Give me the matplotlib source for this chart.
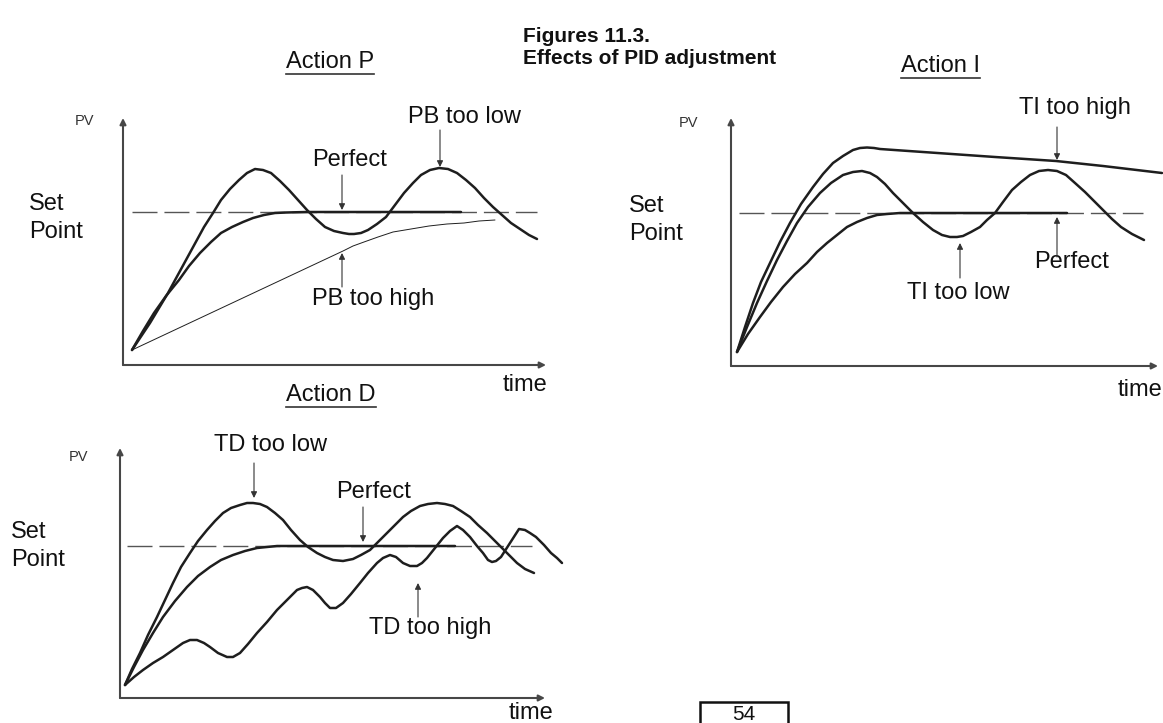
import matplotlib
matplotlib.use("Agg")
import matplotlib.pyplot as plt
from matplotlib.lines import Line2D
from matplotlib.patches import Rectangle

plt.rcParams['font.family'] = ['Liberation Sans', 'DejaVu Sans']

W, H = 1163, 723
INK = '#1e1e1e'
AXC = '#474747'

# ---- Action P : time / PV (origin = axis corner)
p_perfect_t = [9, 20, 31, 43, 56, 66, 77, 88, 98, 109, 120, 130, 141, 152, 163, 184, 338]
p_perfect_v = [15, 34, 52, 69, 85, 99, 112, 123, 132, 138, 143, 147, 150, 152, 152.5, 153, 153]
p_low_t = [9, 27, 45, 63, 81, 90, 98, 107, 116, 124, 132, 140, 148, 157, 166, 175, 184,
           193, 202, 211, 220, 226, 231, 238, 245, 254, 263, 272, 281, 290, 298, 307,
           316, 325, 334, 343, 352, 361, 370, 379, 388, 397, 406, 414]
p_low_v = [15, 42, 72, 105, 138, 152, 165, 176, 185, 192, 196, 195, 192, 184, 175, 165, 155,
           146, 138, 134, 132, 131, 131, 132, 135, 141, 148, 160, 172, 182, 190, 195,
           197, 196, 192, 185, 177, 167, 158, 150, 142, 136, 130, 126]
p_high_t = [9, 220, 230, 241, 255, 270, 288, 306, 324, 341, 356, 372]
p_high_v = [15, 114, 119, 123, 128, 133, 136, 139, 141, 142, 144, 145]

# ---- Action I
i_perfect_t = [6, 17, 29, 40, 52, 64, 76, 86, 96, 106, 116, 126, 136, 146, 156, 169, 182, 336]
i_perfect_v = [14, 32, 49, 64, 79, 92, 103, 114, 123, 131, 139, 144, 148, 151, 152, 153, 153, 153]
i_low_t = [6, 16, 26, 36, 46, 56, 66, 77, 89, 100, 112, 122, 131, 139, 146, 154, 162, 172,
           182, 192, 202, 211, 219, 226, 232, 240, 249, 256, 264, 272, 281, 290, 299, 308,
           317, 326, 335, 344, 354, 363, 372, 381, 390, 401, 413]
i_low_v = [14, 39, 63, 85, 106, 125, 143, 159, 173, 183, 191, 194, 195, 193, 189, 182, 173, 163,
           153, 144, 136, 131, 129, 129, 130, 134, 139, 146, 153, 164, 176, 184, 191, 195,
           196, 195, 191, 183, 174, 165, 156, 147, 139, 132, 126]
i_high_t = [6, 14, 22, 30, 39, 49, 59, 70, 82, 92, 102, 112, 122, 129, 136, 143, 149,
            192, 264, 325, 372, 431]
i_high_v = [14, 39, 63, 84, 103, 124, 143, 162, 179, 192, 203, 210, 216, 218, 218.5, 218, 217,
            214, 209, 205, 200, 193]

# ---- Action D
d_perfect_t = [5, 14, 23, 33, 43, 55, 67, 78, 90, 101, 113, 125, 137, 147, 157, 187, 335]
d_perfect_v = [13, 31, 48, 65, 81, 97, 111, 122, 131, 138, 143, 147, 150, 151, 152, 152, 152]
d_low_t = [5, 12, 20, 28, 37, 45, 53, 61, 70, 78, 87, 95, 103, 111, 120, 127, 133, 140,
           147, 155, 163, 171, 180, 188, 197, 205, 213, 223, 233, 241, 250, 258, 267, 275,
           283, 291, 300, 308, 317, 325, 333, 341, 350, 358, 367, 377, 387, 397, 405, 414]
d_low_v = [13, 29, 45, 63, 81, 98, 115, 131, 145, 157, 168, 177, 185, 190, 193, 195, 195, 194,
           191, 185, 178, 168, 158, 151, 145, 141, 138, 137, 139, 143, 148, 156, 165, 173,
           181, 187, 192, 194, 195, 194, 192, 187, 181, 173, 165, 155, 145, 135, 129, 125]
d_high_t = [5, 14, 23, 33, 43, 53, 63, 70, 77, 84, 90, 98, 107, 113, 120, 128, 137, 147,
            157, 167, 177, 182, 187, 193, 200, 205, 210, 216, 223, 231, 240, 248, 257, 263,
            270, 276, 283, 290, 297, 302, 307, 315, 323, 330, 337, 343, 350, 357, 363, 368,
            372, 376, 381, 390, 399, 405, 410, 416, 424, 431, 437, 442]
d_high_v = [13, 21, 28, 35, 41, 48, 55, 58, 58, 55, 51, 45, 41, 41, 45, 54, 65, 76,
            88, 98, 108, 110, 111, 108, 101, 95, 90, 90, 95, 104, 115, 125, 135, 140,
            143, 141, 135, 132, 132, 135, 140, 150, 160, 167, 172, 168, 161, 152, 145, 138,
            136, 137, 141, 155, 169, 168, 165, 161, 153, 145, 140, 135]

panels = [
    dict(corner=(123, 365), title='Action P', title_at=(207, 303),
         setpoint=153, dash=(9, 414), ytop=247, xtip=423,
         curves=[(p_low_t, p_low_v, 1.8), (p_perfect_t, p_perfect_v, 1.8),
                 (p_high_t, p_high_v, 0.7)],
         labels=[('Perfect', (227, 205), (219, 190), (219, 155)),
                 ('PB too low', (341, 248), (317, 235), (317, 198)),
                 ('PB too high', (250, 66), (219, 78), (219, 112))],
         pv_at=(-39, 244), sp_at=(-94, 147), time_at=(402, -20)),
    dict(corner=(731, 366), title='Action I', title_at=(210, 300),
         setpoint=153, dash=(8, 412), ytop=248, xtip=427,
         curves=[(i_high_t, i_high_v, 1.8), (i_low_t, i_low_v, 1.8),
                 (i_perfect_t, i_perfect_v, 1.8)],
         labels=[('TI too high', (344, 258), (326, 239), (326, 206)),
                 ('Perfect', (341, 104), (326, 109), (326, 149)),
                 ('TI too low', (227, 73), (229, 88), (229, 123))],
         pv_at=(-43, 243), sp_at=(-102, 146), time_at=(409, -24)),
    dict(corner=(120, 698), title='Action D', title_at=(211, 303),
         setpoint=152, dash=(7, 412), ytop=250, xtip=425,
         curves=[(d_low_t, d_low_v, 1.8), (d_perfect_t, d_perfect_v, 1.8),
                 (d_high_t, d_high_v, 1.8)],
         labels=[('TD too low', (150, 253), (134, 235), (134, 200)),
                 ('Perfect', (254, 206), (243, 191), (243, 156)),
                 ('TD too high', (310, 70), (298, 81), (298, 115))],
         pv_at=(-42, 241), sp_at=(-109, 152), time_at=(411, -15)),
]

fig = plt.figure(figsize=(W / 100, H / 100), dpi=100)
fig.patch.set_facecolor('white')

XL, XR, YB, YT = -130, 450, -40, 320
titles = []
for p in panels:
    cx, cy = p['corner']
    ax = fig.add_axes([(cx + XL) / W, (H - cy + YB) / H, (XR - XL) / W, (YT - YB) / H])
    ax.set_xlim(XL, XR)
    ax.set_ylim(YB, YT)
    ax.axis('off')

    # axes with arrow heads
    arr = dict(arrowstyle='-|>', color=AXC, lw=1.5, mutation_scale=9, shrinkA=0, shrinkB=0)
    ax.annotate('', xy=(0, p['ytop']), xytext=(0, 0), arrowprops=arr, annotation_clip=False)
    ax.annotate('', xy=(p['xtip'], 0), xytext=(0, 0), arrowprops=arr, annotation_clip=False)

    # set point dashed line
    ax.plot(p['dash'], [p['setpoint']] * 2, color='#555555', lw=1.0,
            dashes=(18, 5), clip_on=False)

    for t, v, lw in p['curves']:
        ax.plot(t, v, color=INK, lw=lw, solid_capstyle='round', solid_joinstyle='round',
                clip_on=False)

    for txt, pos, tail, tip in p['labels']:
        ax.text(pos[0], pos[1], txt, ha='center', va='center', fontsize=17, color='#111111')
        ax.annotate('', xy=tip, xytext=tail, annotation_clip=False,
                    arrowprops=dict(arrowstyle='-|>', color='#333333', lw=0.8,
                                    mutation_scale=9, shrinkA=0, shrinkB=0))

    ax.text(p['pv_at'][0], p['pv_at'][1], 'PV', ha='center', va='center',
            fontsize=10.5, color='#333333')
    ax.text(p['sp_at'][0], p['sp_at'][1], 'Set\nPoint', ha='left', va='center',
            fontsize=17, linespacing=1.3, color='#111111')
    ax.text(p['time_at'][0], p['time_at'][1], 'time', ha='center', va='center',
            fontsize=17, color='#111111')
    titles.append(ax.text(p['title_at'][0], p['title_at'][1], p['title'], ha='center',
                          va='center', fontsize=17, color='#111111'))

fig.text(523 / W, 1 - 36 / H, 'Figures 11.3.', ha='left', va='center',
         fontsize=15, fontweight='bold', color='#111111')
fig.text(523 / W, 1 - 58 / H, 'Effects of PID adjustment', ha='left', va='center',
         fontsize=15, fontweight='bold', color='#111111')

# page number box at the bottom edge
fig.patches.append(Rectangle((700 / W, -10 / H), 88 / W, 31 / H, transform=fig.transFigure,
                             fill=False, lw=1.8, edgecolor='#111111'))
fig.text(744 / W, 1 - 720 / H, '54', ha='center', va='baseline', fontsize=15, color='#111111')

# underline the panel titles
fig.canvas.draw()
r = fig.canvas.get_renderer()
for t in titles:
    bb = t.get_window_extent(r)
    y = bb.y0 - 1
    fig.lines.append(Line2D([bb.x0 / W, bb.x1 / W], [y / H, y / H], transform=fig.transFigure,
                            color='#333333', lw=1.2))

fig.savefig('out.png', dpi=100)
